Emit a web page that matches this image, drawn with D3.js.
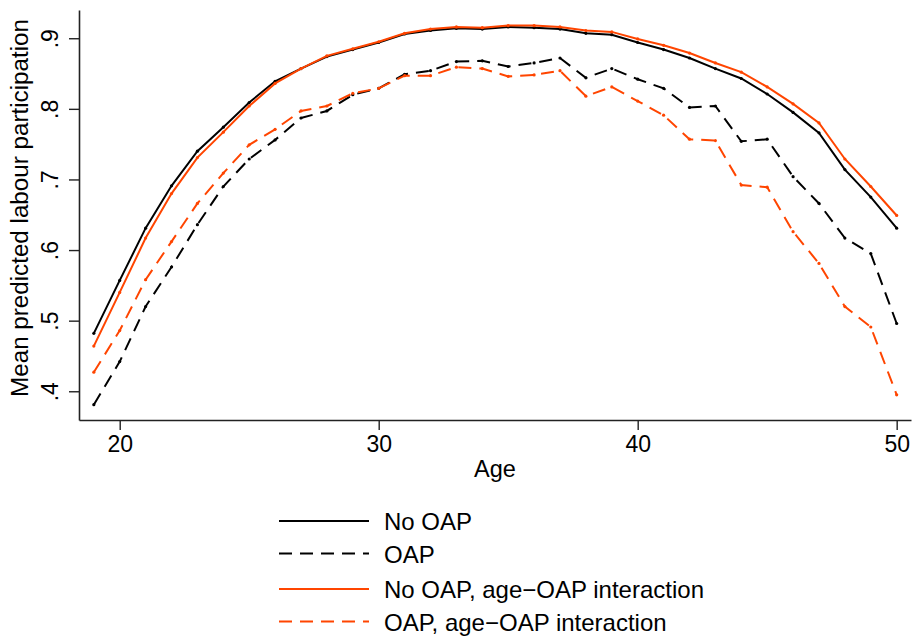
<!DOCTYPE html>
<html>
<head>
<meta charset="utf-8">
<script src="https://cdn.jsdelivr.net/npm/d3@7"></script>
<style>
  body { margin: 0; background: #fff; }
  svg text { font-family: "Liberation Sans", Arial, sans-serif; fill: #000; }
</style>
</head>
<body>
<svg id="chart"></svg>
<script>
const ages = [19, 20, 21, 22, 23, 24, 25, 26, 27, 28, 29, 30, 31, 32, 33, 34,
  35, 36, 37, 38, 39, 40, 41, 42, 43, 44, 45, 46, 47, 48, 49, 50];

const noOap = [0.482, 0.557, 0.631, 0.691, 0.740, 0.774, 0.809, 0.839, 0.857, 0.874,
  0.884, 0.894, 0.906, 0.911, 0.914, 0.913, 0.916, 0.915, 0.913, 0.907, 0.905, 0.894,
  0.884, 0.872, 0.857, 0.843, 0.821, 0.795, 0.766, 0.714, 0.675, 0.631];

const oap = [0.381, 0.442, 0.520, 0.576, 0.636, 0.690, 0.729, 0.756, 0.787, 0.797,
  0.820, 0.829, 0.849, 0.854, 0.867, 0.868, 0.860, 0.865, 0.872, 0.844, 0.857, 0.842,
  0.829, 0.802, 0.804, 0.754, 0.757, 0.704, 0.666, 0.617, 0.595, 0.496];

const noOapInter = [0.464, 0.540, 0.617, 0.680, 0.731, 0.767, 0.804, 0.836, 0.857, 0.875,
  0.885, 0.895, 0.907, 0.913, 0.916, 0.915, 0.918, 0.918, 0.916, 0.911, 0.909, 0.899,
  0.890, 0.879, 0.865, 0.852, 0.831, 0.807, 0.780, 0.729, 0.690, 0.649];

const oapInter = [0.427, 0.486, 0.558, 0.612, 0.666, 0.709, 0.749, 0.771, 0.797, 0.804,
  0.822, 0.829, 0.847, 0.847, 0.859, 0.857, 0.846, 0.848, 0.854, 0.818, 0.831, 0.811,
  0.791, 0.757, 0.755, 0.692, 0.689, 0.626, 0.581, 0.520, 0.491, 0.395];

const xTicks = [20, 30, 40, 50];
const yTicks = [0.4, 0.5, 0.6, 0.7, 0.8, 0.9];

const series = [
  { name: "No OAP", values: noOap, color: "#000", dash: null },
  { name: "OAP", values: oap, color: "#000", dash: "13,8" },
  { name: "No OAP, age\u2212OAP interaction", values: noOapInter, color: "#ff4500", dash: null },
  { name: "OAP, age\u2212OAP interaction", values: oapInter, color: "#ff4500", dash: "13,8" }
];

const width = 912;
const height = 638;

const svg = d3.select("#chart").attr("width", width).attr("height", height);

// plot region edges (axis lines run along these)
const plotLeft = 79, plotRight = 911, plotTop = 10, plotBottom = 420;

const x = d3.scaleLinear().domain([18.428, 50.553]).range([plotLeft, plotRight]);
const y = d3.scaleLinear().domain([0.3593, 0.940]).range([plotBottom, plotTop]);

const xAxis = svg.append("g")
  .attr("transform", `translate(0, ${plotBottom})`)
  .call(d3.axisBottom(x).tickValues(xTicks).tickSize(10).tickSizeOuter(0));
xAxis.select(".domain").attr("stroke", "#222").attr("stroke-width", 1.6);
xAxis.selectAll(".tick line").attr("stroke", "#222").attr("stroke-width", 1.4);
xAxis.selectAll("text")
  .attr("y", 32).attr("dy", 0)
  .attr("font-size", 23).attr("fill", "#000");

const yAxis = svg.append("g")
  .attr("transform", `translate(${plotLeft}, 0)`)
  .call(d3.axisLeft(y).tickValues(yTicks).tickSize(10).tickSizeOuter(0)
    .tickFormat(d => d3.format(".1f")(d).replace(/^0/, "")));
yAxis.select(".domain").attr("stroke", "#222").attr("stroke-width", 1.6);
yAxis.selectAll(".tick line").attr("stroke", "#222").attr("stroke-width", 1.4);
yAxis.selectAll("text")
  .attr("transform", "rotate(-90)")
  .attr("x", 0).attr("y", -21).attr("dy", 0)
  .attr("text-anchor", "middle")
  .attr("font-size", 23).attr("fill", "#000");

svg.append("text")
  .attr("x", (plotLeft + plotRight) / 2)
  .attr("y", 477)
  .attr("text-anchor", "middle")
  .attr("font-size", 23.5)
  .text("Age");

svg.append("text")
  .attr("transform", "translate(28, 208) rotate(-90)")
  .attr("text-anchor", "middle")
  .attr("font-size", 24.2)
  .text("Mean predicted labour participation");

const line = d3.line()
  .x((d, i) => x(ages[i]))
  .y(d => y(d));

series.forEach(s => {
  svg.append("path")
    .datum(s.values)
    .attr("d", line)
    .attr("fill", "none")
    .attr("stroke", s.color)
    .attr("stroke-width", 2)
    .attr("stroke-dasharray", s.dash);

  svg.append("g")
    .selectAll("circle")
    .data(s.values)
    .join("circle")
    .attr("cx", (d, i) => x(ages[i]))
    .attr("cy", d => y(d))
    .attr("r", 1.6)
    .attr("fill", s.color);
});

// legend
const legendRows = [521, 553.5, 589, 621.5];
const legend = svg.append("g");
series.forEach((s, i) => {
  legend.append("line")
    .attr("x1", 279).attr("x2", 369)
    .attr("y1", legendRows[i]).attr("y2", legendRows[i])
    .attr("stroke", s.color)
    .attr("stroke-width", 2)
    .attr("stroke-dasharray", s.dash);
  legend.append("text")
    .attr("x", 384)
    .attr("y", legendRows[i] + 9)
    .attr("font-size", 24)
    .text(s.name);
});
</script>
</body>
</html>
